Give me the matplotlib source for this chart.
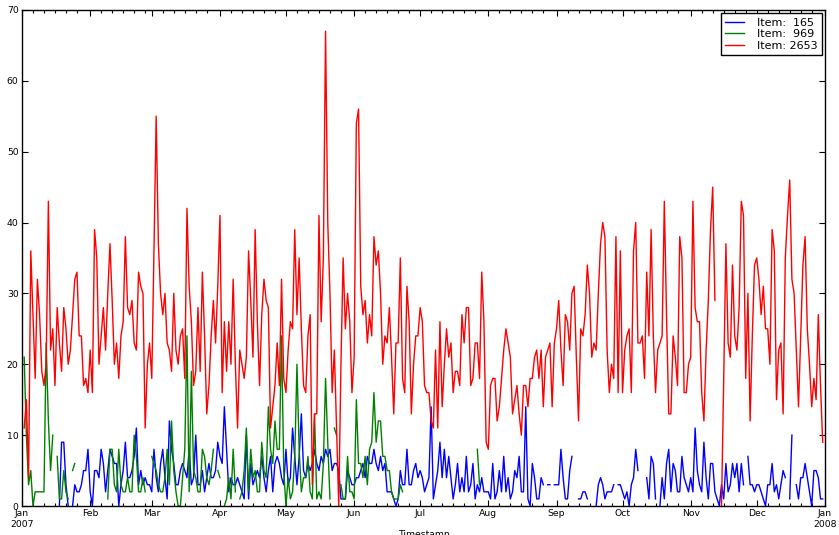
import numpy as np
import pandas as pd
import matplotlib
matplotlib.use("Agg")
import matplotlib.pyplot as plt
import matplotlib.dates as mdates
from matplotlib.ticker import FuncFormatter

nan = np.nan

# Daily counts for 2007, one value per day (NaN = no record that day)
dates = pd.date_range("2007-01-01", "2007-12-31", freq="D")

item_165 = [
    # Jan
    nan, nan, nan, nan, nan, nan, nan, nan, nan, nan,
    nan, nan, nan, nan, nan, nan, nan, 0, 9, 9,
    3, 0, nan, 0, 3, 2, 2, 3, 5, 5, 8,
    # Feb
    2, 0, 5, 5, 4, 8, 6, 2, 5, 8,
    7, 6, 6, 0, 3, 5, 9, 4, 4, 5,
    7, 11, 3, 5, 3, 4, 3, 3,
    # Mar
    2, 8, 4, 2, 6, 8, 4, 1, 12, 8,
    6, 3, 3, 5, 6, 5, 4, 8, 3, 4,
    10, 3, 3, 5, 2, 4, 6, 4, 4, 5, 9,
    # Apr
    7, 6, 14, 8, 2, 4, 3, 3, 4, 3,
    2, 1, 10, 1, 6, 3, 4, 5, 4, 7,
    4, 2, 5, 7, 2, 6, 7, 6, 4, 3,
    # May
    8, 3, 4, 11, 7, 3, 7, 13, 5, 4,
    6, 5, 6, 8, 6, 5, 7, 6, 8, 7,
    8, 5, 6, 6, 5, 1, 1, 1, 5, 4, 3,
    # Jun
    3, 4, 4, 5, 6, 4, 7, 6, 6, 8,
    6, 5, 7, 5, 6, 2, 2, 2, 1, 0,
    1, 5, 3, 3, 8, 3, 3, 5, 6, 4,
    # Jul
    5, 4, 2, 3, 4, 14, 1, 3, 5, 9,
    4, 8, 4, 7, 4, 1, 3, 6, 2, 4,
    2, 7, 2, 3, 6, 1, 3, 2, 4, 2, 2,
    # Aug
    2, 1, 6, 1, 2, 5, 2, 7, 2, 4,
    1, 2, 5, 4, 7, 2, 2, 14, 1, 0,
    6, 4, 1, 1, 4, 3, nan, 3, 3, nan, 3,
    # Sep
    3, 3, 8, 4, 1, 1, 5, 7, nan, nan,
    1, 1, 2, 2, 1, nan, nan, nan, 0, 3,
    4, 3, 1, 2, 2, 2, 3, nan, 3, 3,
    # Oct
    2, 1, 2, 0, 3, 4, 8, 5, nan, nan,
    nan, 4, 1, 7, 6, 1, nan, 0, 4, 1,
    6, 8, 2, 6, 5, 2, 2, 7, 4, 3, 2,
    # Nov
    4, 2, 11, 5, 3, 2, 9, 4, 1, 6,
    6, 2, 1, 0, 3, 1, 6, 2, 3, 6,
    4, 6, 2, 6, 3, nan, 7, 3, 3, 2,
    # Dec
    3, 3, 2, 1, 0, 3, 3, 6, 2, 3,
    1, 3, 5, 4, nan, 1, 10, nan, 3, 1,
    4, 4, 6, 4, 2, 0, 5, 5, 4, 1, 1,
]

item_969 = [
    # Jan
    nan, 21, 10, 3, 5, 0, 2, 2, 2, 2,
    2, 23, 12, 5, 10, nan, 7, 1, 1, 5,
    2, 1, nan, 5, 6, nan, nan, nan, nan, nan, nan,
    # Feb
    nan, nan, nan, nan, nan, nan, nan, nan, 1, 8,
    8, 3, 2, 8, 3, 2, 2, 4, 2, 2,
    10, 7, 2, 2, 4, 2, nan, nan,
    # Mar
    7, 6, 5, 3, 2, 2, 4, 8, 3, 12,
    5, 2, 0, 0, 4, 8, 24, 2, 19, 5,
    4, 2, 2, 8, 7, 4, 3, 5, 8, nan, 5,
    # Apr
    4, nan, 0, 1, 4, 1, 8, 2, nan, 1,
    2, 5, 11, 2, 8, 4, 5, 2, 2, 9,
    5, 4, 14, 8, 6, 12, 8, 8, 24, 5,
    # May
    0, 4, 1, 2, 7, 20, 8, 2, 4, 4,
    7, 2, 1, 13, 1, 2, 1, 6, 18, 9,
    1, nan, 11, 10, nan, 3, 1, 1, 7, 2, 2,
    # Jun
    1, 15, 6, 6, 4, 7, 3, 8, 9, 16,
    9, 12, 12, 7, 7, 5, 5, 2, 1, 1,
    1, 3, 2, nan, nan, nan, nan, nan, nan, nan,
    # Jul
    nan, nan, nan, nan, nan, nan, nan, nan, nan, nan,
    nan, nan, nan, nan, nan, nan, nan, nan, nan, nan,
    nan, nan, nan, nan, nan, nan, 8, 3, nan, nan, nan,
] + [nan] * 153  # Aug - Dec: no records

item_2653 = [
    # Jan
    nan, 11, 15, 4, 36, 27, 18, 32, 27, 19,
    17, 20, 43, 22, 25, 17, 28, 23, 19, 28,
    25, 20, 22, 27, 32, 33, 24, 24, 17, 18, 16,
    # Feb
    22, 16, 39, 35, 20, 24, 28, 22, 30, 37,
    29, 20, 23, 18, 24, 26, 38, 28, 27, 29,
    23, 22, 33, 31, 30, 11, 20, 23,
    # Mar
    18, 36, 55, 37, 30, 27, 30, 23, 22, 19,
    30, 22, 20, 24, 25, 18, 42, 31, 26, 17,
    19, 28, 19, 33, 24, 13, 17, 24, 29, 23, 31,
    # Apr
    41, 16, 26, 19, 26, 20, 32, 20, 11, 22,
    20, 18, 21, 36, 29, 21, 39, 26, 17, 27,
    32, 29, 28, 11, 14, 17, 23, 17, 32, 18,
    # May
    16, 22, 26, 25, 39, 27, 35, 25, 17, 16,
    24, 27, 3, 13, 13, 41, 26, 35, 67, 40,
    30, 16, 22, 11, 0, 20, 35, 25, 30, 26, 16,
    # Jun
    21, 54, 56, 31, 27, 29, 23, 27, 24, 38,
    34, 36, 30, 20, 24, 23, 28, 21, 13, 23,
    23, 35, 18, 16, 31, 26, 13, 20, 24, 24,
    # Jul
    28, 26, 17, 16, 16, 12, 11, 22, 11, 26,
    14, 20, 25, 21, 23, 16, 19, 19, 17, 27,
    23, 28, 28, 17, 18, 23, 23, 18, 33, 26, 9,
    # Aug
    8, 17, 18, 18, 12, 14, 18, 22, 25, 23,
    21, 13, 15, 17, 13, 10, 17, 17, 14, 18,
    18, 21, 22, 18, 22, 14, 21, 22, 23, 14, 23,
    # Sep
    25, 29, 22, 17, 27, 26, 22, 30, 31, 21,
    12, 25, 24, 27, 34, 30, 21, 23, 22, 30,
    37, 40, 38, 22, 16, 20, 18, 38, 16, 36,
    # Oct
    16, 22, 24, 25, 16, 36, 40, 23, 23, 24,
    18, 33, 24, 39, 24, 16, 22, 23, 24, 43,
    27, 13, 13, 24, 21, 17, 38, 35, 16, 16, 20,
    # Nov
    21, 43, 28, 26, 26, 16, 12, 22, 29, 39,
    45, 29, nan, nan, 0, 18, 37, 23, 21, 34,
    24, 22, 28, 43, 41, 18, 30, 12, 24, 34,
    # Dec
    35, 32, 27, 31, 25, 25, 20, 39, 36, 15,
    22, 23, 13, 35, 41, 46, 32, 30, 22, 14,
    24, 34, 38, 25, 20, 14, 18, 15, 27, 17, 9,
]

series = [
    ("Item:  165", item_165, "#0000ff"),
    ("Item:  969", item_969, "#008000"),
    ("Item: 2653", item_2653, "#ff0000"),
]

plt.rcParams["font.family"] = ["DejaVu Sans"]

fig = plt.figure(figsize=(8.39, 5.35), dpi=100)
ax = fig.add_axes([0.0262, 0.0542, 0.957, 0.9273])

for label, values, color in series:
    ax.plot(dates, np.asarray(values, dtype=float), color=color, lw=1.0, label=label)

ax.set_xlim(pd.Timestamp("2007-01-01"), pd.Timestamp("2008-01-01"))
ax.set_ylim(0, 70)
ax.set_yticks(range(0, 71, 10))

ax.xaxis.set_major_locator(mdates.MonthLocator())
ax.xaxis.set_minor_locator(mdates.DayLocator(bymonthday=[6, 11, 16, 21, 26]))


def month_label(x, pos):
    d = mdates.num2date(x)
    return d.strftime("%b\n%Y") if d.month == 1 else d.strftime("%b")


ax.xaxis.set_major_formatter(FuncFormatter(month_label))

ax.tick_params(which="both", direction="in", top=True, right=True,
               labelsize=6.7, width=0.8)
ax.tick_params(which="major", length=4, pad=2.5)
ax.tick_params(which="minor", length=2)
for s in ax.spines.values():
    s.set_linewidth(1.0)
    s.set_color("black")

ax.set_xlabel("Timestamp", fontsize=6.7, labelpad=1)

leg = ax.legend(loc="upper right", fontsize=8, frameon=True, fancybox=False,
                edgecolor="black", framealpha=1, borderaxespad=0.3,
                handlelength=1.7, handletextpad=1.1, labelspacing=0.15,
                borderpad=0.4)
leg.get_frame().set_linewidth(1.0)

fig.savefig("out.png", dpi=100)
